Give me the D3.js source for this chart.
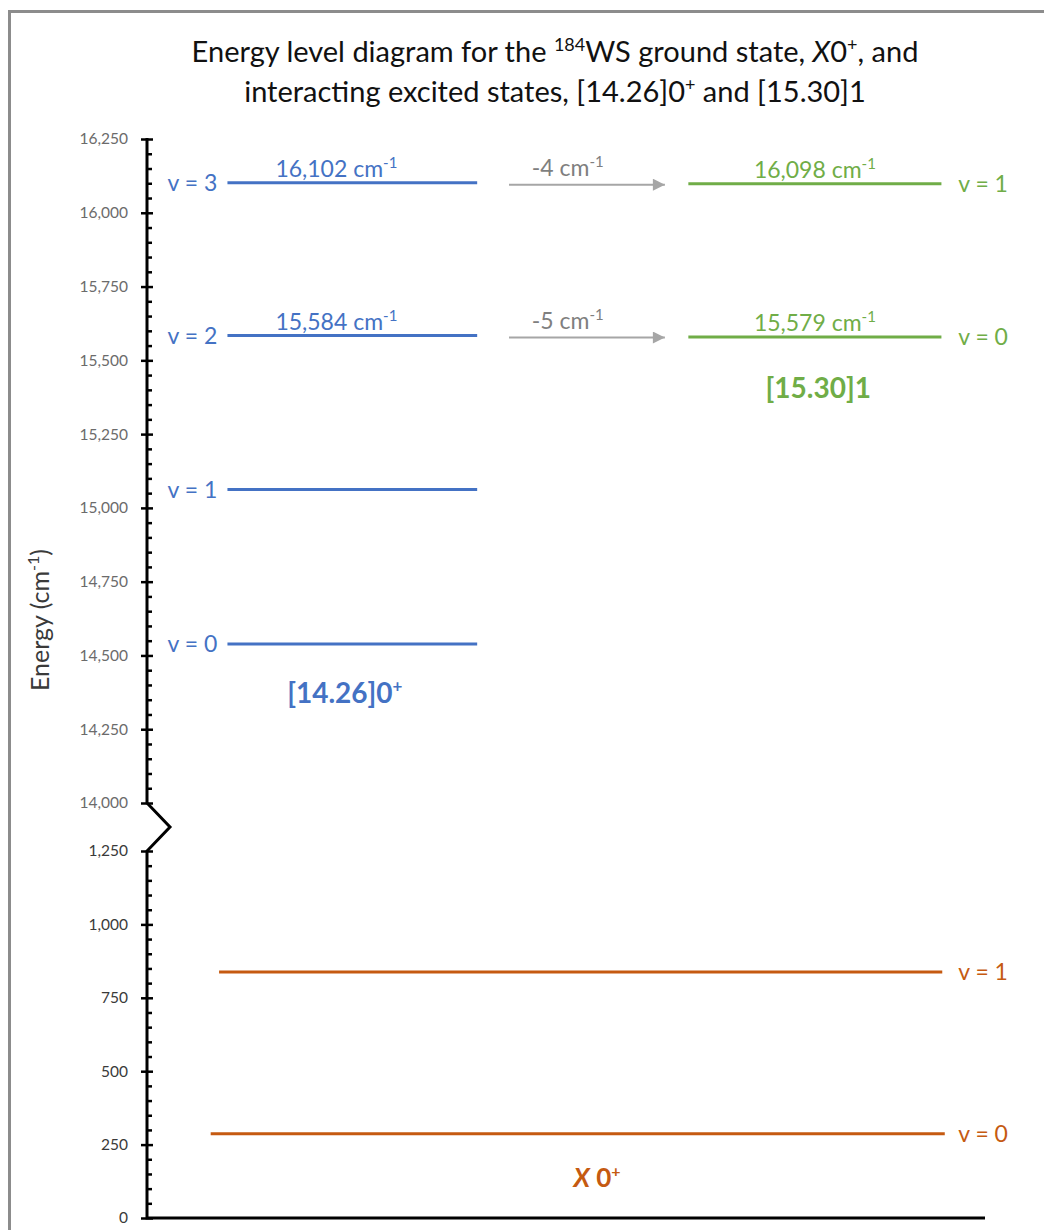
<!DOCTYPE html>
<html>
<head>
<meta charset="utf-8">
<script src="https://cdn.jsdelivr.net/npm/d3@7"></script>
<style>
  html, body { margin: 0; padding: 0; background: #fff; }
  svg { display: block; font-family: Lato, "Open Sans", sans-serif; }
</style>
</head>
<body>
<svg id="chart" width="1044" height="1230"></svg>
<script>
// Vibrational levels of the three electronic states (cm^-1)
const excited0Levels = ["v = 0", "v = 1", "v = 2", "v = 3"];
const excited0Energy = [14539, 15062, 15584, 16102];
const excited1Levels = ["v = 0", "v = 1"];
const excited1Energy = [15579, 16098];
const groundLevels = ["v = 0", "v = 1"];
const groundEnergy = [287, 838];
// Interaction shifts between near-degenerate pairs (excited0 v -> excited1 v)
const shiftFrom = [2, 3];
const shiftTo = [0, 1];

// Axis ticks for the two segments of the broken energy axis
const upperTicks = [14000, 14250, 14500, 14750, 15000, 15250, 15500, 15750, 16000, 16250];
const lowerTicks = [0, 250, 500, 750, 1000, 1250];

const colors = { excited0: "#4472C4", excited1: "#70AD47", ground: "#C55A11", shift: "#A6A6A6" };

const svg = d3.select("#chart");
const fmt = d3.format(",");

// frame
svg.append("rect")
  .attr("x", 9.5).attr("y", 11.5).attr("width", 1200).attr("height", 1400)
  .attr("fill", "none").attr("stroke", "#8c8c8c").attr("stroke-width", 3);

const axisX = 147;
const x = d3.scaleLinear().domain([0, 100]).range([axisX, 985]);
const yUpper = d3.scaleLinear().domain([14000, 16250]).range([803, 139]);
const yLower = d3.scaleLinear().domain([0, 1250]).range([1218, 851]);

// --- title ---
const title = svg.append("text").attr("text-anchor", "middle").attr("font-size", 29).attr("fill", "#111");
const t1 = title.append("tspan").attr("x", 555).attr("y", 62);
t1.append("tspan").text("Energy level diagram for the ");
t1.append("tspan").attr("font-size", 18).attr("dy", -11).text("184");
t1.append("tspan").attr("dy", 11).text("WS ground state, ");
t1.append("tspan").attr("font-style", "italic").text("X");
t1.append("tspan").text("0");
t1.append("tspan").attr("font-size", 18).attr("dy", -11).text("+");
t1.append("tspan").attr("dy", 11).text(", and");
const t2 = title.append("tspan").attr("x", 555).attr("y", 102);
t2.append("tspan").text("interacting excited states, [14.26]0");
t2.append("tspan").attr("font-size", 18).attr("dy", -11).text("+");
t2.append("tspan").attr("dy", 11).text(" and [15.30]1");

// --- axes ---
function drawAxis(scale, ticks, color) {
  const minor = d3.range(ticks[0], ticks[ticks.length - 1] + 1, 50).filter(v => !ticks.includes(v));
  const gMinor = svg.append("g").attr("transform", `translate(${axisX},0)`)
    .call(d3.axisLeft(scale).tickValues(minor).tickSize(-5).tickFormat(""));
  gMinor.select(".domain").remove();
  gMinor.selectAll(".tick line").attr("stroke", "#000").attr("stroke-width", 2.5);

  const gMajor = svg.append("g").attr("transform", `translate(${axisX},0)`)
    .call(d3.axisLeft(scale).tickValues(ticks).tickSize(6).tickPadding(13).tickFormat(fmt));
  gMajor.select(".domain").remove();
  gMajor.selectAll(".tick line").attr("x2", -6).attr("x1", 6).attr("stroke", "#000").attr("stroke-width", 2.5);
  gMajor.selectAll(".tick text").attr("font-size", 15.5).attr("fill", color)
    .attr("font-family", "Lato, sans-serif");
}
drawAxis(yUpper, upperTicks, "#6b6b6b");
drawAxis(yLower, lowerTicks, "#3a3a3a");

// axis line with break zigzag
const axisPath = d3.path();
axisPath.moveTo(axisX, yUpper(16250) - 1);
axisPath.lineTo(axisX, yUpper(14000));
axisPath.lineTo(axisX + 23, (yUpper(14000) + yLower(1250)) / 2);
axisPath.lineTo(axisX, yLower(1250));
axisPath.lineTo(axisX, yLower(0));
axisPath.lineTo(x(100), yLower(0));
svg.append("path").attr("d", axisPath.toString())
  .attr("fill", "none").attr("stroke", "#000").attr("stroke-width", 3).attr("stroke-linejoin", "miter");

// axis title
const yTitle = svg.append("text")
  .attr("transform", `translate(49,620) rotate(-90)`)
  .attr("text-anchor", "middle").attr("font-size", 25).attr("fill", "#3a3a3a");
yTitle.append("tspan").text("Energy (cm");
yTitle.append("tspan").attr("font-size", 16).attr("dy", -10).text("-1");
yTitle.append("tspan").attr("dy", 10).text(")");

// helper for "value cm^-1" labels
function cmLabel(g, xPos, yPos, str, color) {
  const t = g.append("text").attr("x", xPos).attr("y", yPos)
    .attr("text-anchor", "middle").attr("font-size", 23).attr("fill", color);
  t.append("tspan").text(str + " cm");
  t.append("tspan").attr("font-size", 15).attr("dy", -9).text("-1");
  return t;
}

// --- [14.26]0+ levels ---
const gA = svg.append("g");
excited0Energy.forEach((e, i) => {
  const yy = yUpper(e);
  gA.append("line").attr("x1", x(9.6)).attr("x2", x(39.4)).attr("y1", yy).attr("y2", yy)
    .attr("stroke", colors.excited0).attr("stroke-width", 3);
  gA.append("text").attr("x", x(8.4)).attr("y", yy + 8).attr("text-anchor", "end")
    .attr("font-size", 23).attr("fill", colors.excited0).text(excited0Levels[i]);
});
shiftFrom.forEach(i => cmLabel(gA, x(22.6), yUpper(excited0Energy[i]) - 6, fmt(excited0Energy[i]), colors.excited0));
const lblA = gA.append("text").attr("x", x(23.6)).attr("y", yUpper(excited0Energy[0]) + 59)
  .attr("text-anchor", "middle").attr("font-size", 28).attr("font-weight", "bold").attr("fill", colors.excited0);
lblA.append("tspan").text("[14.26]0");
lblA.append("tspan").attr("font-size", 17).attr("dy", -11).text("+");

// --- [15.30]1 levels ---
const gB = svg.append("g");
excited1Energy.forEach((e, i) => {
  const yy = yUpper(e);
  gB.append("line").attr("x1", x(64.6)).attr("x2", x(94.8)).attr("y1", yy).attr("y2", yy)
    .attr("stroke", colors.excited1).attr("stroke-width", 3);
  gB.append("text").attr("x", x(96.8)).attr("y", yy + 8).attr("text-anchor", "start")
    .attr("font-size", 23).attr("fill", colors.excited1).text(excited1Levels[i]);
  cmLabel(gB, x(79.7), yy - 6, fmt(e), colors.excited1);
});
gB.append("text").attr("x", x(80.1)).attr("y", yUpper(excited1Energy[0]) + 61)
  .attr("text-anchor", "middle").attr("font-size", 28).attr("font-weight", "bold")
  .attr("fill", colors.excited1).text("[15.30]1");

// --- shift arrows ---
svg.append("defs").append("marker")
  .attr("id", "arrowHead").attr("viewBox", "0 0 10 10").attr("refX", 10).attr("refY", 5)
  .attr("markerWidth", 7).attr("markerHeight", 6).attr("markerUnits", "strokeWidth")
  .attr("orient", "auto")
  .append("path").attr("d", "M0,0 L10,5 L0,10 Z").attr("fill", colors.shift);
const gS = svg.append("g");
shiftFrom.forEach((from, k) => {
  const yy = yUpper(excited0Energy[from]) + 2;
  const delta = excited1Energy[shiftTo[k]] - excited0Energy[from];
  gS.append("line").attr("x1", x(43.2)).attr("x2", x(61.8)).attr("y1", yy).attr("y2", yy)
    .attr("stroke", colors.shift).attr("stroke-width", 2).attr("marker-end", "url(#arrowHead)");
  cmLabel(gS, x(50.2), yy - 9, String(delta), "#7f7f7f");
});

// --- X0+ ground state levels ---
const gX = svg.append("g");
const groundStart = [7.6, 8.6];
const groundEnd = [95.2, 94.9];
groundEnergy.forEach((e, i) => {
  const yy = yLower(e);
  gX.append("line").attr("x1", x(groundStart[i])).attr("x2", x(groundEnd[i])).attr("y1", yy).attr("y2", yy)
    .attr("stroke", colors.ground).attr("stroke-width", 3);
  gX.append("text").attr("x", x(96.8)).attr("y", yy + 8).attr("text-anchor", "start")
    .attr("font-size", 23).attr("fill", colors.ground).text(groundLevels[i]);
});
const lblX = gX.append("text").attr("x", x(53.7)).attr("y", yLower(groundEnergy[0]) + 53)
  .attr("text-anchor", "middle").attr("font-size", 26).attr("font-weight", "bold").attr("fill", colors.ground);
lblX.append("tspan").attr("font-style", "italic").text("X");
lblX.append("tspan").text(" 0");
lblX.append("tspan").attr("font-size", 16).attr("dy", -10).text("+");
</script>
</body>
</html>
